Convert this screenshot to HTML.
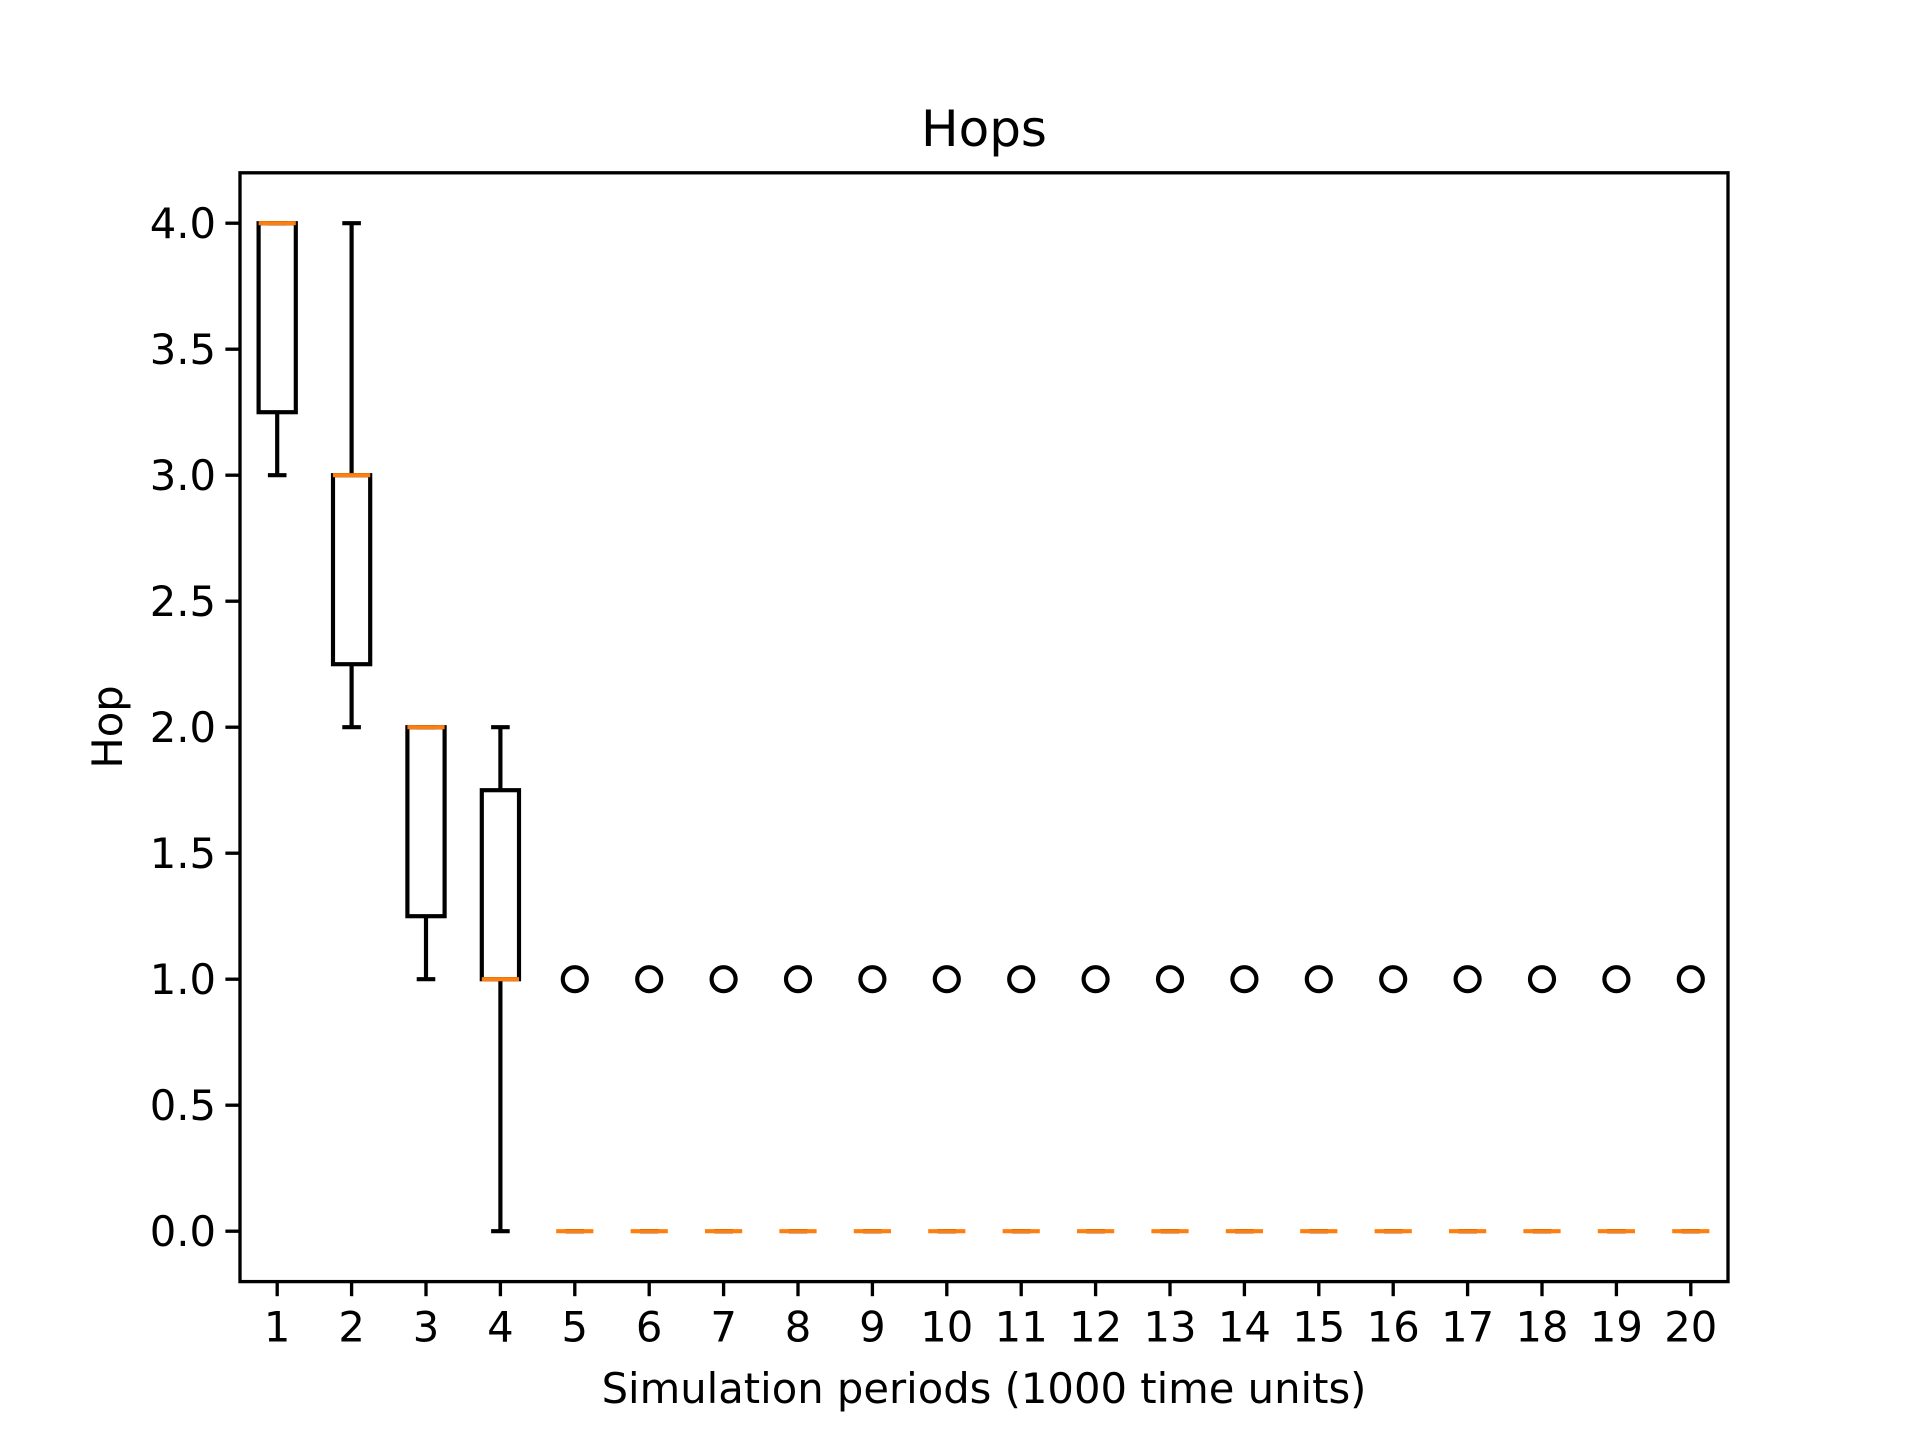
<!DOCTYPE html>
<html><head><meta charset="utf-8"><style>
html,body{margin:0;padding:0;background:#fff;}
svg text{font-family:"DejaVu Sans","Liberation Sans",sans-serif;fill:#000;}
</style></head><body>
<svg id="chart" width="1920" height="1440" xmlns="http://www.w3.org/2000/svg">
<rect width="1920" height="1440" fill="#fff"/>
<text x="984" y="146" font-size="50" text-anchor="middle">Hops</text>
<text x="984" y="1403" font-size="41.7" text-anchor="middle">Simulation periods (1000 time units)</text>
<text x="0" y="0" font-size="41.7" text-anchor="middle" transform="translate(122,727) rotate(-90)">Hop</text>
<g id="plot"></g>
<rect x="240" y="172.8" width="1488" height="1108.8" fill="none" stroke="#000" stroke-width="3.33"/>
</svg>
<script>
const categories = [1,2,3,4,5,6,7,8,9,10,11,12,13,14,15,16,17,18,19,20];
const whiskerLow = [3,2,1,0,0,0,0,0,0,0,0,0,0,0,0,0,0,0,0,0];
const q1Values = [3.25,2.25,1.25,1,0,0,0,0,0,0,0,0,0,0,0,0,0,0,0,0];
const medianValues = [4,3,2,1,0,0,0,0,0,0,0,0,0,0,0,0,0,0,0,0];
const q3Values = [4,3,2,1.75,0,0,0,0,0,0,0,0,0,0,0,0,0,0,0,0];
const whiskerHigh = [4,4,2,2,0,0,0,0,0,0,0,0,0,0,0,0,0,0,0,0];
const outliers = [[],[],[],[],[1],[1],[1],[1],[1],[1],[1],[1],[1],[1],[1],[1],[1],[1],[1],[1]];
const yTicks = [0,0.5,1,1.5,2,2.5,3,3.5,4];
const yTickLabels = ["0.0","0.5","1.0","1.5","2.0","2.5","3.0","3.5","4.0"];

const L=240,R=1728,T=172.8,B=1281.6;
const xMin=0.5,xMax=20.5,yMin=-0.2,yMax=4.2;
const X=v=>L+(v-xMin)/(xMax-xMin)*(R-L);
const Y=v=>B-(v-yMin)/(yMax-yMin)*(B-T);
const NS="http://www.w3.org/2000/svg";
const g=document.getElementById('plot');
function mk(tag,attrs,parent){const e=document.createElementNS(NS,tag);for(const k in attrs)e.setAttribute(k,attrs[k]);(parent||g).appendChild(e);return e;}
const lw=4.17;
yTicks.forEach((v,i)=>{
  const t=mk('line',{x1:L-14.6,x2:L,y1:Y(v),y2:Y(v),stroke:'#000','stroke-width':3.33});
  
  
  const tx=mk('text',{x:L-24,y:Y(v)+15,'font-size':41.7,'text-anchor':'end'});
  tx.textContent=yTickLabels[i];
  
  
});
categories.forEach((c,i)=>{
  const x=X(i+1);
  const t=mk('line',{x1:x,x2:x,y1:B,y2:B+14.6,stroke:'#000','stroke-width':3.33});
  
  
  const tx=mk('text',{x:x,y:B+60,'font-size':41.7,'text-anchor':'middle'});
  tx.textContent=c;
  
  
  const grp=mk('g',{});
  
  
  const hw=(X(1.25)-X(1)), cw=(X(1.125)-X(1));
  const s={stroke:'#000','stroke-width':lw,fill:'none'};
  mk('line',Object.assign({x1:x,x2:x,y1:Y(q1Values[i]),y2:Y(whiskerLow[i])},s),grp);
  mk('line',Object.assign({x1:x,x2:x,y1:Y(q3Values[i]),y2:Y(whiskerHigh[i])},s),grp);
  mk('line',Object.assign({x1:x-cw,x2:x+cw,y1:Y(whiskerLow[i]),y2:Y(whiskerLow[i])},s),grp);
  mk('line',Object.assign({x1:x-cw,x2:x+cw,y1:Y(whiskerHigh[i]),y2:Y(whiskerHigh[i])},s),grp);
  mk('rect',Object.assign({x:x-hw,y:Y(q3Values[i]),width:2*hw,height:Y(q1Values[i])-Y(q3Values[i])},s),grp);
  mk('line',{x1:x-hw,x2:x+hw,y1:Y(medianValues[i]),y2:Y(medianValues[i]),stroke:'#ff7f0e','stroke-width':lw},grp);
  outliers[i].forEach(o=>{
    const ci=mk('circle',{cx:x,cy:Y(o),r:12,fill:'none',stroke:'#000','stroke-width':lw},grp);
    
    
  });
});
</script>
</body></html>
